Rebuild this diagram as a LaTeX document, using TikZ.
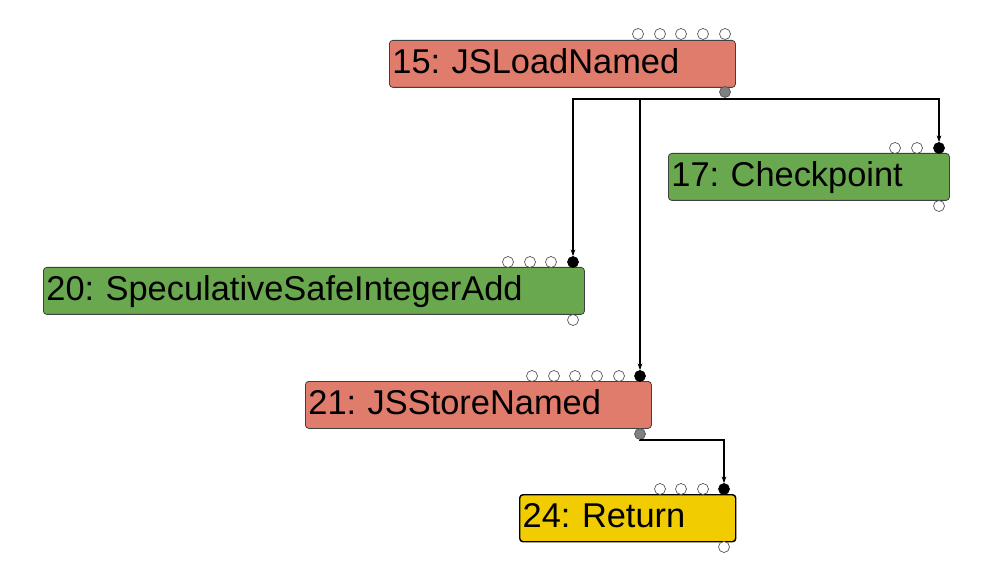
\documentclass[tikz,border=0pt]{standalone}
\usepackage{fontspec}
\setmainfont{Liberation Sans}
\usetikzlibrary{arrows.meta}
\definecolor{salmon}{RGB}{224,124,108}
\definecolor{opgreen}{RGB}{106,168,79}
\definecolor{opyellow}{RGB}{240,204,0}
\definecolor{portline}{RGB}{80,80,80}
\frenchspacing
\tikzset{
  opbox/.style={draw=black!75, line width=0.6pt, rounded corners=2.5pt, anchor=north west,
    minimum height=35.25pt, inner sep=0pt, align=left,
    text height=19pt, text depth=4.75pt,
    font=\fontsize{25.8}{30}\selectfont},
  portin/.style={circle, draw=portline, fill=white, line width=0.5pt, minimum size=8.25pt, inner sep=0pt},
  porthit/.style={circle, draw=black, fill=black, line width=0.5pt, minimum size=8.25pt, inner sep=0pt},
  portout/.style={circle, draw=portline, fill=gray, line width=0.5pt, minimum size=8.25pt, inner sep=0pt},
  wire/.style={draw=black, line width=1pt},
  arr/.style={wire, -{Stealth[length=5pt,width=3.5pt]}},
}
\begin{document}
\begin{tikzpicture}[x=0.75pt,y=-0.75pt]
\useasboundingbox (0,0) rectangle (981,584);
% boxes
\node[opbox, fill=salmon, minimum width=259.5pt, text width=255pt] (n15) at (389,40) {15: JSLoadNamed};
\node[opbox, fill=opgreen, minimum width=210.75pt, text width=206.25pt] (n17) at (668,153) {17: Checkpoint};
\node[opbox, fill=opgreen, minimum width=405.75pt, text width=401.25pt] (n20) at (43,267) {20: SpeculativeSafeIntegerAdd};
\node[opbox, fill=salmon, minimum width=259.5pt, text width=255pt] (n21) at (305,381) {21: JSStoreNamed};
\node[opbox, fill=opyellow, draw=black, line width=1.1pt, minimum width=162pt, text width=157.5pt] (n24) at (519,494) {24: Return};
% ports of 15
\node[portin] (p15a) at (638,34) {};
\node[portin] (p15b) at (660,34) {};
\node[portin] (p15c) at (681,34) {};
\node[portin] (p15d) at (703,34) {};
\node[portin] (p15e) at (725,34) {};
\node[portout] (o15) at (725,92) {};
% ports of 17
\node[portin] (p17a) at (895,148) {};
\node[portin] (p17b) at (917,148) {};
\node[porthit] (i17) at (939,148) {};
\node[portin] (o17) at (939,206) {};
% ports of 20
\node[portin] (p20a) at (508,262) {};
\node[portin] (p20b) at (530,262) {};
\node[portin] (p20c) at (551,262) {};
\node[porthit] (i20) at (573,262) {};
\node[portin] (o20) at (573,320) {};
% ports of 21
\node[portin] (p21a) at (532,376) {};
\node[portin] (p21b) at (554,376) {};
\node[portin] (p21c) at (575,376) {};
\node[portin] (p21d) at (597,376) {};
\node[portin] (p21e) at (619,376) {};
\node[porthit] (i21) at (640,376) {};
\node[portout] (o21) at (640,434) {};
% ports of 24
\node[portin] (p24a) at (660,489) {};
\node[portin] (p24b) at (681,489) {};
\node[portin] (p24c) at (703,489) {};
\node[porthit] (i24) at (724,489) {};
\node[portin] (o24) at (724,547) {};
% connectors
\coordinate (bus15) at (725,99);
\coordinate (bus21) at (640,440);
\draw[wire] (o15.south) -- (bus15);
\draw[arr] (bus15) -| (i20.north);
\draw[arr] (bus15) -| (i21.north);
\draw[arr] (bus15) -| (i17.north);
\draw[wire] (o21.south) -- (bus21);
\draw[arr] (bus21) -| (i24.north);
\end{tikzpicture}
\end{document}
